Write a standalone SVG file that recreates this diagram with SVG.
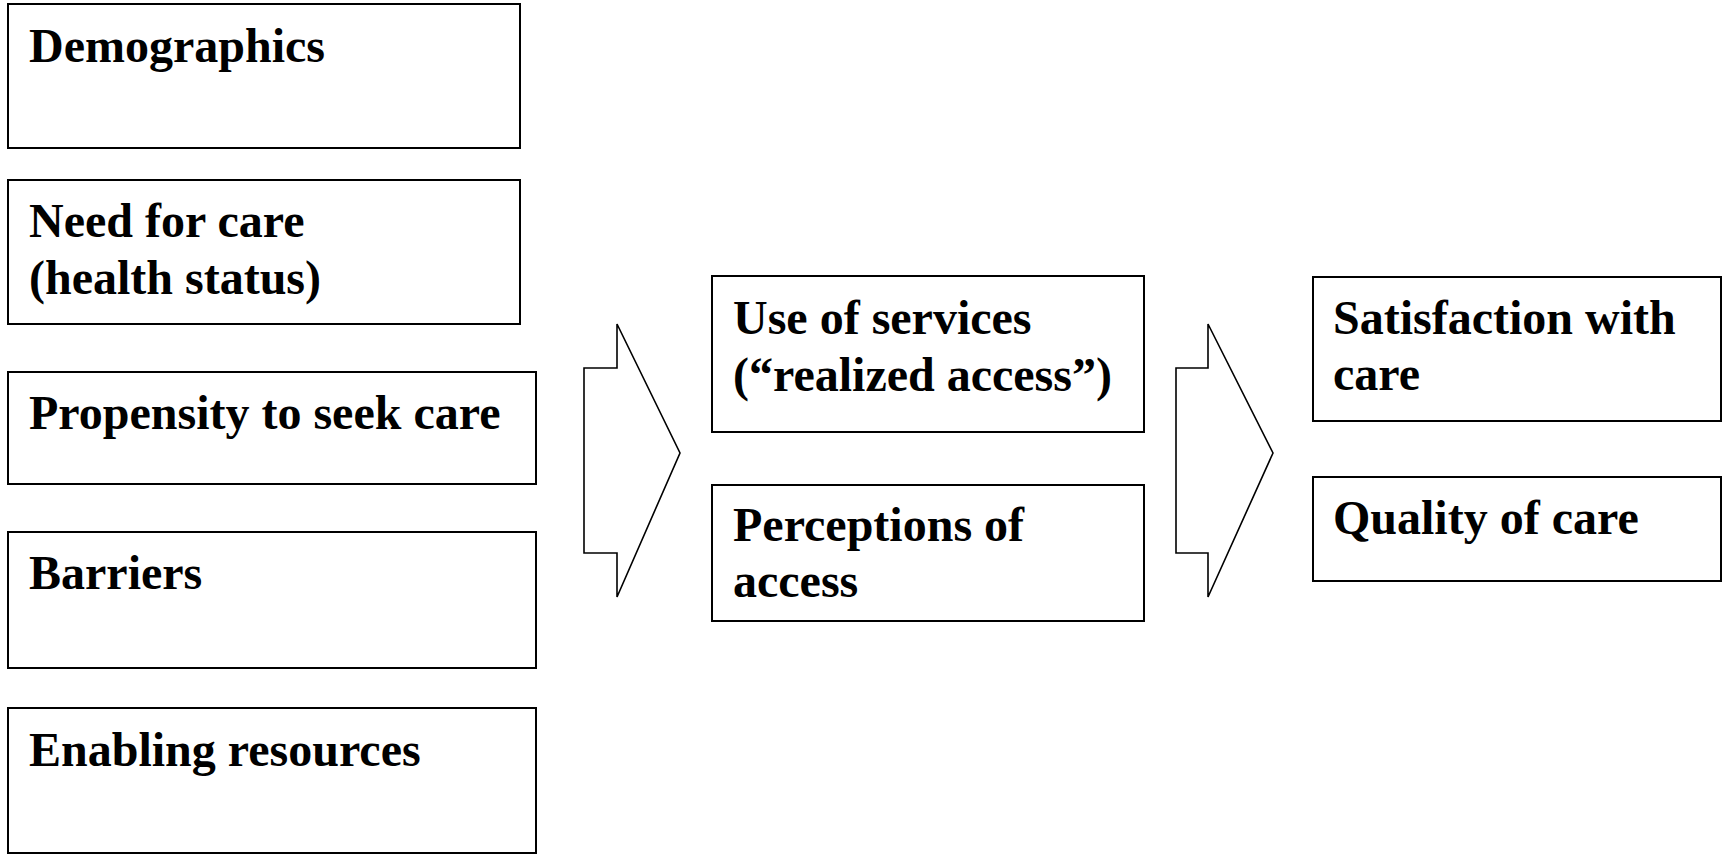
<svg xmlns="http://www.w3.org/2000/svg" width="1725" height="856" viewBox="0 0 1725 856">
<style>
.box{fill:#fff;stroke:#000;stroke-width:2}
.arr{fill:#fff;stroke:#000;stroke-width:1.6;stroke-linejoin:miter}
text{font-family:"Liberation Serif","Times New Roman",serif;font-weight:bold;font-size:48px;fill:#000}
</style>
<rect width="1725" height="856" fill="#fff"/>
<g id="demographics"><rect class="box" x="8" y="4" width="512" height="144"/><text x="29" y="62">Demographics</text></g>
<g id="need"><rect class="box" x="8" y="180" width="512" height="144"/><text x="29" y="237">Need for care</text><text x="29" y="294">(health status)</text></g>
<g id="propensity"><rect class="box" x="8" y="372" width="528" height="112"/><text x="29" y="429">Propensity to seek care</text></g>
<g id="barriers"><rect class="box" x="8" y="532" width="528" height="136"/><text x="29" y="589">Barriers</text></g>
<g id="enabling"><rect class="box" x="8" y="708" width="528" height="145"/><text x="29" y="766">Enabling resources</text></g>
<g id="use"><rect class="box" x="712" y="276" width="432" height="156"/><text x="733" y="334">Use of services</text><text x="733" y="391">(“realized access”)</text></g>
<g id="perceptions"><rect class="box" x="712" y="485" width="432" height="136"/><text x="733" y="541">Perceptions of</text><text x="733" y="597">access</text></g>
<g id="satisfaction"><rect class="box" x="1313" y="277" width="408" height="144"/><text x="1333" y="334">Satisfaction with</text><text x="1333" y="390">care</text></g>
<g id="quality"><rect class="box" x="1313" y="477" width="408" height="104"/><text x="1333" y="534">Quality of care</text></g>
<g id="connectors">
<polygon class="arr" points="584,368 617,368 617,324 680,453 617,597 617,553 584,553"/>
<polygon class="arr" points="1176,368 1208,368 1208,324 1273,453 1208,597 1208,553 1176,553"/>
</g>
</svg>
